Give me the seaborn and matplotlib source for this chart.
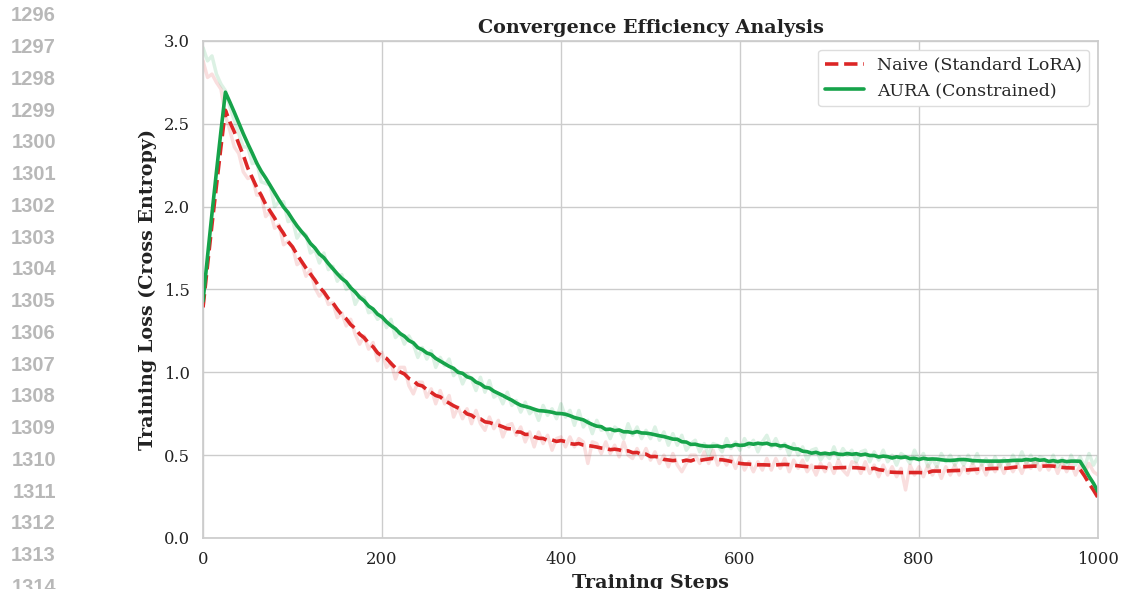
import numpy as np
import pandas as pd
import seaborn as sns
import matplotlib.pyplot as plt

# training steps (every 5 steps)
steps = np.arange(0, 1001, 5)

# raw loss
naive_raw = [
    2.88, 2.78, 2.80, 2.75, 2.71, 2.55, 2.46, 2.36, 2.32, 2.21,
    2.17, 2.18, 2.07, 2.07, 1.94, 1.97, 1.87, 1.89, 1.77, 1.79,
    1.76, 1.65, 1.67, 1.58, 1.62, 1.51, 1.46, 1.49, 1.41, 1.42,
    1.33, 1.36, 1.28, 1.32, 1.23, 1.17, 1.22, 1.14, 1.18, 1.07,
    1.12, 1.03, 1.06, 0.96, 1.03, 1.03, 0.92, 0.87, 0.94, 0.94,
    0.85, 0.90, 0.81, 0.89, 0.81, 0.86, 0.73, 0.79, 0.72, 0.78,
    0.69, 0.77, 0.69, 0.65, 0.73, 0.66, 0.71, 0.61, 0.68, 0.69,
    0.62, 0.67, 0.58, 0.64, 0.55, 0.64, 0.57, 0.62, 0.53, 0.60,
    0.61, 0.55, 0.61, 0.55, 0.60, 0.58, 0.45, 0.58, 0.57, 0.51,
    0.58, 0.51, 0.56, 0.49, 0.58, 0.50, 0.48, 0.54, 0.48, 0.54,
    0.47, 0.52, 0.45, 0.50, 0.43, 0.51, 0.44, 0.40, 0.45, 0.50,
    0.50, 0.45, 0.52, 0.45, 0.53, 0.44, 0.49, 0.44, 0.49, 0.42,
    0.49, 0.41, 0.46, 0.40, 0.46, 0.41, 0.48, 0.41, 0.48, 0.42,
    0.48, 0.40, 0.47, 0.42, 0.47, 0.40, 0.44, 0.38, 0.45, 0.40,
    0.45, 0.39, 0.47, 0.41, 0.38, 0.46, 0.45, 0.39, 0.46, 0.39,
    0.44, 0.37, 0.44, 0.38, 0.43, 0.37, 0.42, 0.29, 0.44, 0.38,
    0.43, 0.37, 0.44, 0.38, 0.43, 0.36, 0.43, 0.38, 0.44, 0.38,
    0.43, 0.39, 0.45, 0.39, 0.44, 0.38, 0.45, 0.40, 0.45, 0.39,
    0.45, 0.40, 0.45, 0.39, 0.46, 0.42, 0.48, 0.41, 0.46, 0.41,
    0.46, 0.39, 0.46, 0.40, 0.45, 0.38, 0.44, 0.39, 0.45, 0.40, 0.38,
]
aura_raw = [
    2.96, 2.88, 2.91, 2.80, 2.74, 2.70, 2.60, 2.52, 2.44, 2.36,
    2.36, 2.26, 2.27, 2.15, 2.14, 2.13, 2.00, 2.03, 2.03, 1.91,
    1.92, 1.81, 1.85, 1.83, 1.72, 1.74, 1.66, 1.72, 1.62, 1.64,
    1.55, 1.59, 1.50, 1.52, 1.41, 1.46, 1.45, 1.36, 1.37, 1.32,
    1.34, 1.27, 1.32, 1.21, 1.24, 1.17, 1.22, 1.17, 1.09, 1.15,
    1.08, 1.13, 1.03, 1.09, 1.04, 1.08, 0.98, 1.01, 0.93, 0.99,
    0.96, 0.89, 0.97, 0.88, 0.95, 0.85, 0.87, 0.81, 0.88, 0.80,
    0.83, 0.76, 0.82, 0.75, 0.78, 0.71, 0.80, 0.74, 0.78, 0.72,
    0.81, 0.73, 0.77, 0.68, 0.77, 0.67, 0.71, 0.63, 0.71, 0.65,
    0.66, 0.60, 0.67, 0.65, 0.60, 0.69, 0.62, 0.67, 0.60, 0.65,
    0.60, 0.67, 0.59, 0.64, 0.56, 0.63, 0.56, 0.62, 0.53, 0.57,
    0.59, 0.52, 0.57, 0.50, 0.57, 0.56, 0.52, 0.60, 0.54, 0.58,
    0.53, 0.60, 0.55, 0.59, 0.52, 0.58, 0.62, 0.55, 0.60, 0.54,
    0.57, 0.50, 0.57, 0.50, 0.55, 0.47, 0.53, 0.54, 0.47, 0.51,
    0.48, 0.55, 0.48, 0.54, 0.50, 0.53, 0.46, 0.52, 0.53, 0.46,
    0.52, 0.47, 0.53, 0.46, 0.50, 0.44, 0.51, 0.49, 0.45, 0.53,
    0.47, 0.51, 0.43, 0.48, 0.43, 0.51, 0.46, 0.50, 0.44, 0.49,
    0.44, 0.50, 0.45, 0.51, 0.44, 0.48, 0.42, 0.49, 0.43, 0.48,
    0.44, 0.50, 0.45, 0.52, 0.45, 0.50, 0.43, 0.49, 0.48, 0.44,
    0.50, 0.43, 0.48, 0.42, 0.50, 0.44, 0.49, 0.43, 0.51, 0.44, 0.49,
]

labels = ['Naive (Standard LoRA)', 'AURA (Constrained)']
colors = ['#dc2626', '#16a34a']
line_numbers = list(range(1296, 1315))

# moving average, window 10 ('same' mode, like the original)
win = 10
naive_smooth = np.convolve(naive_raw, np.ones(win) / win, mode='same')
aura_smooth = np.convolve(aura_raw, np.ones(win) / win, mode='same')

df = pd.DataFrame({'step': steps, 'naive_raw': naive_raw, 'aura_raw': aura_raw,
                   'naive': naive_smooth, 'aura': aura_smooth})

sns.set_theme(style='whitegrid')
plt.rcParams['font.family'] = 'DejaVu Serif'

fig = plt.figure(figsize=(11.23, 5.89), dpi=100)
ax = fig.add_axes([0.1808, 0.0866, 0.7969, 0.8438])

sns.lineplot(data=df, x='step', y='naive_raw', color=colors[0], alpha=0.15, lw=2.5, ax=ax, legend=False)
sns.lineplot(data=df, x='step', y='aura_raw', color=colors[1], alpha=0.15, lw=2.5, ax=ax, legend=False)
sns.lineplot(data=df, x='step', y='naive', color=colors[0], lw=2.6, ls='--', ax=ax, label=labels[0])
sns.lineplot(data=df, x='step', y='aura', color=colors[1], lw=2.6, ax=ax, label=labels[1])

ax.set_xlim(0, 1000)
ax.set_ylim(0, 3.0)
ax.set_xticks(range(0, 1001, 200))
ax.set_yticks(np.arange(0, 3.01, 0.5))
ax.tick_params(labelsize=11.8, colors='#222222')
for s in ax.spines.values():
    s.set_color('#cccccc')

ax.set_title('Convergence Efficiency Analysis', fontsize=13.8, fontweight='bold', color='#222222', pad=6)
ax.set_ylabel('Training Loss (Cross Entropy)', fontsize=13.8, fontweight='bold', color='#222222')
ax.set_xlabel('Training Steps', fontsize=13.8, fontweight='bold', color='#222222')
ax.yaxis.set_label_coords(-0.051, 0.5)
ax.xaxis.set_label_coords(0.5, -0.072)

ax.legend(loc='upper right', fontsize=12.5, frameon=True, framealpha=1,
          edgecolor='#dddddd', handlelength=2.2)

for k, n in enumerate(line_numbers):
    fig.text(56 / 1123, 1 - (15.8 + 31.75 * k) / 589, str(n), ha='right', va='center',
             fontsize=14.5, fontweight='bold', color='#b8b8b8', family='Liberation Sans')

fig.savefig('out.png', dpi=100)
